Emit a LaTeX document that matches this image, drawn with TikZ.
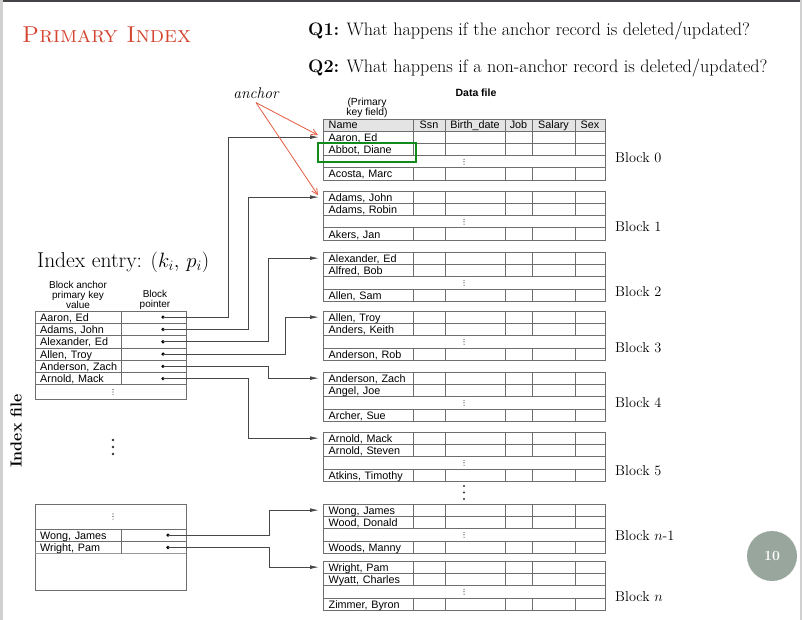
\documentclass[tikz,border=0pt]{standalone}
\usepackage{fontspec}
\newfontfamily\tabfont{Liberation Sans}
\usetikzlibrary{positioning,arrows.meta,calc}
\definecolor{titlered}{RGB}{212,70,50}
\definecolor{anchorred}{RGB}{228,92,66}
\definecolor{gridgray}{RGB}{110,110,110}
\definecolor{headgray}{RGB}{228,228,228}
\definecolor{boxgreen}{RGB}{18,138,28}
\definecolor{badgegray}{RGB}{152,166,157}
\definecolor{framegray}{RGB}{208,208,208}
\definecolor{topbar}{RGB}{66,68,72}

\tikzset{
  grid/.style={draw=gridgray,line width=0.8pt},
  namecell/.style={anchor=west,text width=83pt,inner xsep=5.5pt,inner ysep=0pt,
    text height=7.9pt,text depth=0pt,
    minimum height=12.3pt,font=\tabfont\fontsize{10.8}{12}\selectfont},
  headcell/.style={inner sep=0pt,text height=7.9pt,text depth=0pt,font=\tabfont\fontsize{10.8}{12}\selectfont},
  blocklbl/.style={anchor=west,inner sep=0pt,font=\fontsize{14.3}{16}\selectfont},
  ptrdot/.style={circle,fill=black,inner sep=0pt,minimum size=3.6pt},
  ptr/.style={draw=black!72,line width=0.8pt,-{Latex[length=9pt,width=3.8pt]},shorten >=4pt},
  anchorarr/.style={draw=anchorred,line width=0.8pt,-{Straight Barb[length=6pt,width=6pt]}}
}
\newcommand{\rowdots}[4]{\foreach \dd in {-#4,0,#4}{\fill[black!80] (#1,#2+\dd) circle (#3);}}

\begin{document}
\begin{tikzpicture}[x=1pt,y=-1pt]
\useasboundingbox (0,0) rectangle (802,620);
\fill[white] (0,0) rectangle (802,620);
\fill[topbar] (0,0) rectangle (802,2.5);
\fill[framegray] (0,0) rectangle (3,620);
\fill[framegray] (799.5,0) rectangle (802,620);

\node[anchor=west,inner sep=0pt,text=titlered,font=\fontsize{23}{27}\selectfont] (title) at (22,35) {\textsc{Primary Index}};
\node[anchor=west,inner sep=0pt,font=\fontsize{18.1}{21}\selectfont] (q1) at (308,31) {\textbf{Q1:} What happens if the anchor record is deleted/updated?};
\node[anchor=west,inner sep=0pt,font=\fontsize{18.1}{21}\selectfont] (q2) at (308,68) {\textbf{Q2:} What happens if a non-anchor record is deleted/updated?};

% data file
\node[inner sep=0pt,font=\tabfont\bfseries\fontsize{10.5}{12}\selectfont] (dfile) at (476,93) {Data file};
\node[inner sep=0pt,align=center,font=\tabfont\fontsize{10.3}{9.8}\selectfont] (pkey) at (367,107.5) {(Primary\\key field)};
\fill[headgray] (323,119) rectangle (605,131);
\draw[grid] (323,119) rectangle (605,131);
\foreach \cx in {413,445,505,532,575} \draw[grid] (\cx,119) -- (\cx,131);
\node[namecell] (hname) at (323,125) {Name};
\foreach \hx/\htxt [count=\i] in {429/Ssn,475/Birth\_date,518.5/Job,553.5/Salary,590/Sex}
  \node[headcell] (h\i) at (\hx,125) {\htxt};

\foreach \bn/\by/\ra/\rb/\rd/\lby/\lbl in {
  0/131/{Aaron, Ed}/{Abbot, Diane}/{Acosta, Marc}/158/{Block 0},
  1/191/{Adams, John}/{Adams, Robin}/{Akers, Jan}/227/{Block 1},
  2/252/{Alexander, Ed}/{Alfred, Bob}/{Allen, Sam}/292/{Block 2},
  3/311/{Allen, Troy}/{Anders, Keith}/{Anderson, Rob}/348/{Block 3},
  4/372/{Anderson, Zach}/{Angel, Joe}/{Archer, Sue}/403/{Block 4},
  5/432/{Arnold, Mack}/{Arnold, Steven}/{Atkins, Timothy}/471/{Block 5},
  6/504/{Wong, James}/{Wood, Donald}/{Woods, Manny}/536/{Block $n$-1},
  7/561/{Wright, Pam}/{Wyatt, Charles}/{Zimmer, Byron}/597/{Block $n$}}{
  \draw[grid] (323,\by) rectangle (605,\by+49.2);
  \foreach \k in {1,2,3} \draw[grid] (323,\by+12.3*\k) -- (605,\by+12.3*\k);
  \foreach \cx in {413,445,505,532,575}{
    \draw[grid] (\cx,\by) -- (\cx,\by+24.6);
    \draw[grid] (\cx,\by+36.9) -- (\cx,\by+49.2);}
  \node[namecell] (b\bn r1) at (323,\by+6.15) {\ra};
  \node[namecell] (b\bn r2) at (323,\by+18.45) {\rb};
  \node[namecell] (b\bn r4) at (323,\by+43.05) {\rd};
  \rowdots{464}{\by+30.75}{0.6pt}{2.4}
  \node[blocklbl] (lbl\bn) at (615,\lby) {\lbl};
}
\rowdots{464}{492.5}{1.2pt}{6.5}
\draw[boxgreen,line width=1.8pt] (318,143) rectangle (416,162);

% index file
\node[inner sep=0pt,rotate=90,font=\bfseries\fontsize{16}{18}\selectfont] (ifile) at (16,431) {Index file};
\node[anchor=west,inner sep=0pt,font=\fontsize{21.5}{25}\selectfont] (ientry) at (37,262) {Index entry: $(k_i,\,p_i)$};
\node[inner sep=0pt,align=center,font=\tabfont\fontsize{10}{9.3}\selectfont] (hkey) at (78,295) {Block anchor\\primary key\\value};
\node[inner sep=0pt,align=center,font=\tabfont\fontsize{10}{9.3}\selectfont] (hptr) at (155,300) {Block\\pointer};
\draw[grid] (35,311) rectangle (186,399);
\foreach \k in {1,...,6} \draw[grid] (35,311+12.3*\k) -- (186,311+12.3*\k);
\draw[grid] (121,311) -- (121,384.8);
\foreach \nm [count=\i] in {{Aaron, Ed},{Adams, John},{Alexander, Ed},{Allen, Troy},{Anderson, Zach},{Arnold, Mack}}{
  \node[namecell,text width=82pt,inner xsep=5pt] (k\i) at (35,311+12.3*\i-6.15) {\nm};
  \node[ptrdot] (p\i) at (163,311+12.3*\i-6.15) {};}
\rowdots{113}{392}{0.6pt}{2.6}
\rowdots{113}{447}{1.4pt}{7}

\draw[grid] (35,504) rectangle (186,590);
\draw[grid] (35,529) -- (186,529);
\draw[grid] (35,541.3) -- (186,541.3);
\draw[grid,line width=1.4pt,draw=gridgray!70] (35,553.6) -- (186,553.6);
\draw[grid] (121,529) -- (121,553.6);
\rowdots{113}{516.5}{0.6pt}{2.6}
\node[namecell,text width=82pt,inner xsep=5pt] (k7) at (35,535.15) {Wong, James};
\node[namecell,text width=82pt,inner xsep=5pt] (k8) at (35,547.45) {Wright, Pam};
\node[ptrdot] (p7) at (168,535.15) {};
\node[ptrdot] (p8) at (168,547.45) {};

% block pointers
\foreach \i/\bn/\dx in {1/0/65,2/1/85,3/2/105,4/3/122,5/4/105,6/5/85,7/6/101,8/7/101}
  \draw[ptr] (p\i.center) -- ++(\dx,0) |- (b\bn r1.west);

% anchor
\node[inner sep=0pt,font=\itshape\fontsize{15.5}{17}\selectfont] (anchor) at (256,93) {anchor};
\draw[anchorarr] ([yshift=-4pt]anchor.south) -- ([xshift=-5pt,yshift=2pt]b0r1.west);
\draw[anchorarr] ([yshift=-4pt]anchor.south) -- ([xshift=-5pt,yshift=2pt]b1r1.west);

\node[circle,fill=badgegray,minimum size=50pt,inner sep=0pt,text=white,font=\bfseries\fontsize{14}{16}\selectfont] (page) at (772,556) {10};
\end{tikzpicture}
\end{document}
